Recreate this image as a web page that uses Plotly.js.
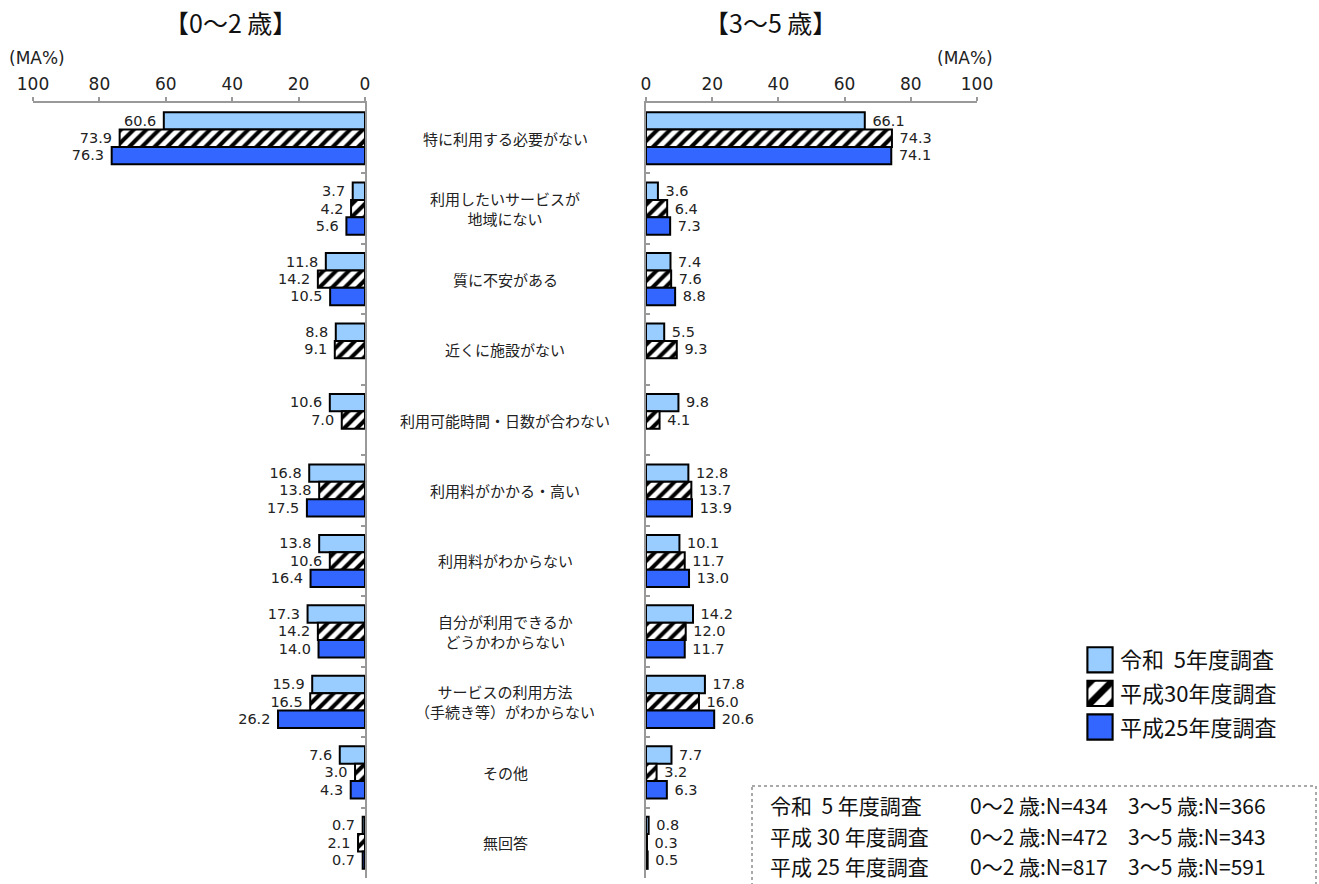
<!DOCTYPE html>
<html>
<head>
<meta charset="utf-8">
<script src="https://cdn.plot.ly/plotly-3.0.1.min.js"></script>
<style>
  body { margin: 0; background: #fff; }
  #chart { width: 1319px; height: 884px; }
</style>
</head>
<body>
<div id="chart"></div>
<script>
var cats = ["c1", "c2", "c3", "c4", "c5", "c6", "c7", "c8", "c9", "c10", "c11"];
var catLabels = [
    "特に利用する必要がない",
    "利用したいサービスが<br>地域にない",
    "質に不安がある",
    "近くに施設がない",
    "利用可能時間・日数が合わない",
    "利用料がかかる・高い",
    "利用料がわからない",
    "自分が利用できるか<br>どうかわからない",
    "サービスの利用方法<br>（手続き等）がわからない",
    "その他",
    "無回答"
];
var seriesNames = ["令和  5年度調査", "平成30年度調査", "平成25年度調査"];

// 0～2歳
var r5Young = [60.6, 3.7, 11.8, 8.8, 10.6, 16.8, 13.8, 17.3, 15.9, 7.6, 0.7];
var h30Young = [73.9, 4.2, 14.2, 9.1, 7.0, 13.8, 10.6, 14.2, 16.5, 3.0, 2.1];
var h25Young = [76.3, 5.6, 10.5, null, null, 17.5, 16.4, 14.0, 26.2, 4.3, 0.7];

// 3～5歳
var r5Old = [66.1, 3.6, 7.4, 5.5, 9.8, 12.8, 10.1, 14.2, 17.8, 7.7, 0.8];
var h30Old = [74.3, 6.4, 7.6, 9.3, 4.1, 13.7, 11.7, 12.0, 16.0, 3.2, 0.3];
var h25Old = [74.1, 7.3, 8.8, null, null, 13.9, 13.0, 11.7, 20.6, 6.3, 0.5];

var surveyNames = ["令和  5 年度調査", "平成 30 年度調査", "平成 25 年度調査"];
var nYoung = [434, 472, 817];
var nOld = [366, 343, 591];

var W = 1319, H = 884;
var plotTop = 103, plotBottom = 878;
function px(x) { return x / W; }
function py(y) { return (plotBottom - y) / (plotBottom - plotTop); }

var numFamily = "DejaVu Sans, sans-serif";
var numFont = { family: numFamily, size: 15, color: "#222" };
var jpFont = "Noto Sans CJK JP, sans-serif";

var styles = [
    { color: "#99ccff", pattern: { shape: "" } },
    { color: "#ffffff", pattern: { shape: "/", fgcolor: "#000", bgcolor: "#fff", size: 9, solidity: 0.45, fillmode: "replace" } },
    { color: "#3366ff", pattern: { shape: "" } }
];

var youngSets = [r5Young, h30Young, h25Young];
var oldSets = [r5Old, h30Old, h25Old];
var data = [];

youngSets.forEach(function (vals, i) {
    data.push({
        type: "bar", orientation: "h",
        x: vals, y: cats, xaxis: "x", yaxis: "y",
        name: seriesNames[i], legendgroup: "g" + i, showlegend: true,
        marker: { color: styles[i].color, pattern: styles[i].pattern, line: { color: "#000", width: 2 } },
        texttemplate: "%{x:.1f}\u00a0", textposition: "outside", textfont: numFont,
        cliponaxis: false, hoverinfo: "x+name"
    });
});
oldSets.forEach(function (vals, i) {
    data.push({
        type: "bar", orientation: "h",
        x: vals, y: cats, xaxis: "x2", yaxis: "y2",
        name: seriesNames[i], legendgroup: "g" + i, showlegend: false,
        marker: { color: styles[i].color, pattern: styles[i].pattern, line: { color: "#000", width: 2 } },
        texttemplate: "\u00a0%{x:.1f}", textposition: "outside", textfont: numFont,
        cliponaxis: false, hoverinfo: "x+name"
    });
});

var xCommon = {
    side: "top", tickvals: [0, 20, 40, 60, 80, 100],
    showgrid: false, zeroline: false, showline: true, linecolor: "#999", linewidth: 2,
    ticks: "outside", ticklen: 4, tickcolor: "#999", tickwidth: 2,
    tickfont: { family: numFamily, size: 17, color: "#222" }, fixedrange: true
};
var yCommon = {
    type: "category", categoryorder: "array", categoryarray: cats,
    range: [10.5, -0.5], showticklabels: false, showgrid: false, zeroline: false,
    showline: true, linecolor: "#999", linewidth: 2,
    ticks: "inside", tickson: "boundaries", ticklen: 4, tickcolor: "#999", tickwidth: 2,
    fixedrange: true
};

function note(x, y, text, font, xanchor) {
    return {
        xref: "paper", yref: "paper", x: px(x), y: py(y), text: text, showarrow: false,
        xanchor: xanchor || "center", yanchor: "middle", font: font
    };
}

var annotations = [];
catLabels.forEach(function (lab, i) {
    annotations.push({
        xref: "paper", yref: "y", x: px(505), y: cats[i], text: lab, showarrow: false,
        xanchor: "center", yanchor: "middle",
        font: { family: jpFont, size: 15, color: "#222" }, align: "center"
    });
});
var titleFont = { family: jpFont, size: 25, color: "#111" };
annotations.push(note(230, 22, "【0～2 歳】", titleFont));
annotations.push(note(770, 22, "【3～5 歳】", titleFont));
var maFont = { family: numFamily, size: 17, color: "#222" };
annotations.push(note(37, 58, "(MA%)", maFont));
annotations.push(note(965, 58, "(MA%)", maFont));

surveyNames.forEach(function (s, i) {
    var yy = 805 + i * 30.5;
    var f = { family: jpFont, size: 21, color: "#111" };
    annotations.push(note(768, yy, s, f, "left"));
    annotations.push(note(968, yy, "0～2 歳:N=" + nYoung[i], f, "left"));
    annotations.push(note(1126, yy, "3～5 歳:N=" + nOld[i], f, "left"));
});

var layout = {
    width: W, height: H,
    margin: { l: 0, r: 0, t: plotTop, b: H - plotBottom },
    paper_bgcolor: "#fff", plot_bgcolor: "rgba(0,0,0,0)",
    barmode: "group", bargap: 0.26, bargroupgap: 0,
    showlegend: true,
    legend: {
        x: px(1080), y: py(639), xanchor: "left", yanchor: "top",
        font: { family: jpFont, size: 22, color: "#111" },
        bgcolor: "rgba(0,0,0,0)", tracegroupgap: 2, itemwidth: 30
    },
    xaxis: Object.assign({}, xCommon, { domain: [px(33), px(365)], range: [100, 0], anchor: "y" }),
    xaxis2: Object.assign({}, xCommon, { domain: [px(646), px(977)], range: [0, 100], anchor: "y2" }),
    yaxis: Object.assign({}, yCommon, { anchor: "x", side: "right" }),
    yaxis2: Object.assign({}, yCommon, { anchor: "x2", side: "left" }),
    annotations: annotations,
    shapes: [{
        type: "rect", xref: "paper", yref: "paper",
        x0: px(752), x1: px(1316), y0: py(786), y1: py(890),
        line: { color: "#555", width: 1, dash: "dot" }
    }]
};

Plotly.newPlot("chart", data, layout, { displayModeBar: false, staticPlot: true }).then(function (gd) {
    // bigger legend swatches, like the boxed keys of the original
    gd.querySelectorAll(".legend .legendpoints path").forEach(function (p) {
        var t = p.getAttribute("transform") || "";
        p.setAttribute("transform", t + " scale(2.1)");
        p.style.strokeWidth = "1px";
    });
});
</script>
</body>
</html>
